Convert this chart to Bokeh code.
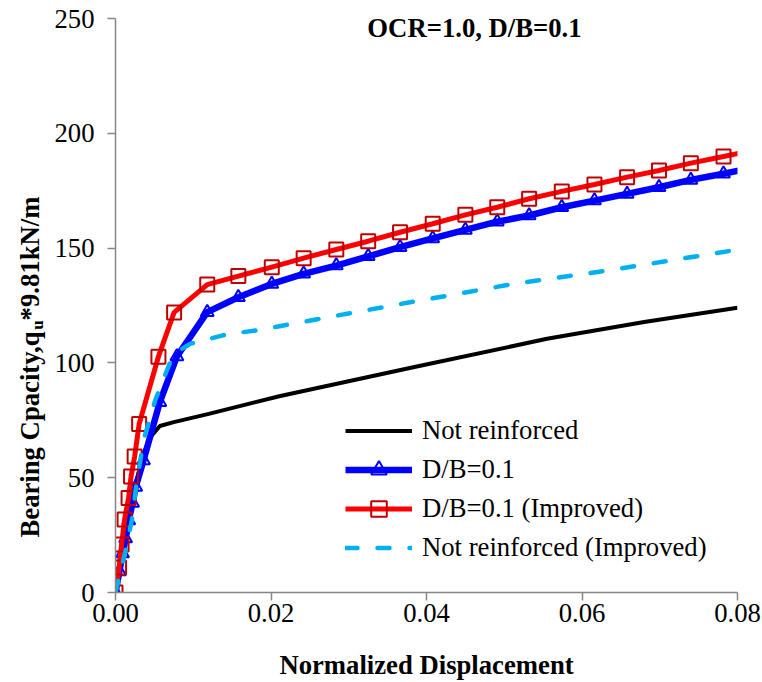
from bokeh.plotting import figure
from bokeh.layouts import row
from bokeh.models import (Range1d, FixedTicker, PrintfTickFormatter, Legend, LegendItem, Label)
from bokeh.embed import file_html
from bokeh.resources import INLINE
import math

# ---------------- data ----------------
not_reinf_x = [0, 0.0014, 0.0025, 0.0035, 0.0047, 0.0057, 0.0075, 0.0120, 0.0212, 0.0383, 0.0555, 0.0680, 0.0800]
not_reinf_y = [0, 23.5, 45.0, 60.0, 68.5, 72.5, 74.2, 77.8, 85.6, 98.1, 110.5, 117.8, 124.0]

db01_x = [0, 0.0005, 0.0009, 0.0013, 0.0017, 0.0022, 0.0026, 0.0036, 0.0057, 0.0079, 0.0118, 0.0158,
          0.0201, 0.0242, 0.0284, 0.0325, 0.0366, 0.0408, 0.0450, 0.0491, 0.0532, 0.0574, 0.0616,
          0.0658, 0.0699, 0.0740, 0.0782, 0.0823]
db01_y = [0, 9.2, 17.0, 23.5, 31.4, 39.0, 46.0, 57.5, 82.9, 102.8, 122.1, 128.6,
          134.4, 138.8, 142.4, 146.4, 150.4, 154.2, 157.9, 161.5, 164.2, 167.8, 170.7,
          173.6, 176.5, 179.7, 182.4, 185.2]

db01_imp_x = [0, 0.00046, 0.00078, 0.00117, 0.00168, 0.0020, 0.00246, 0.00304, 0.00552, 0.00754, 0.0118, 0.0158,
              0.0201, 0.0242, 0.0284, 0.0325, 0.0366, 0.0408, 0.0450, 0.0491, 0.0532, 0.0574, 0.0616,
              0.0658, 0.0699, 0.0740, 0.0782, 0.0823]
db01_imp_y = [0, 10.9, 20.9, 31.8, 41.2, 50.5, 59.2, 73.4, 102.7, 122.0, 134.1, 137.8,
              141.7, 145.6, 149.4, 153.0, 156.9, 160.6, 164.5, 167.8, 171.5, 174.7, 177.7,
              180.9, 183.8, 187.0, 189.9, 192.7]

not_reinf_imp_x = [0, 0.0012, 0.0021, 0.0027, 0.0036, 0.0051, 0.0072, 0.0085, 0.0096, 0.0143, 0.0186, 0.0216,
                   0.0349, 0.0512, 0.0640, 0.0800]
not_reinf_imp_y = [0, 16.8, 31.4, 47.3, 66.2, 83.6, 101.8, 106.0, 108.3, 112.4, 114.4, 116.3,
                   124.6, 134.4, 140.6, 149.3]

x_ticks = [0.0, 0.02, 0.04, 0.06, 0.08]
y_ticks = [0, 50, 100, 150, 200, 250]

title_text = "OCR=1.0, D/B=0.1"
x_label = "Normalized Displacement"
y_label_main = "Bearing Cpacity,q"
y_label_sub = "u"
y_label_tail = "*9.81kN/m"
legend_labels = ["Not reinforced", "D/B=0.1", "D/B=0.1 (Improved)", "Not reinforced (Improved)"]

# ---------------- layout ----------------
FONT = "Liberation Serif"
FS = 26.7
FSPX = "26.7px"
W, H = 762, 682
LW = 50                      # width of the strip holding the vertical y-axis title
FW, FH = 622, 574
LEFT, RIGHT, TOP, BOTTOM = 115, 25, 18, 90
XMAX, YMAX = 0.08, 250

p = figure(frame_width=FW, frame_height=FH, output_backend="svg", toolbar_location=None,
           x_range=Range1d(0, XMAX), y_range=Range1d(0, YMAX),
           min_border_left=LEFT - LW, min_border_right=RIGHT, min_border_top=TOP, min_border_bottom=BOTTOM)
p.frame_align = False
p.background_fill_color = "white"
p.border_fill_color = "white"
p.outline_line_color = None
p.xgrid.visible = False
p.ygrid.visible = False

def px_x(px):
    return (px - LEFT) / FW * XMAX

def px_y(py):
    return (TOP + FH - py) / FH * YMAX

# series
r_black = p.line(not_reinf_x, not_reinf_y, line_color="black", line_width=4)
r_blue = p.line(db01_x, db01_y, line_color="#0000FF", line_width=6.5)
m_blue = p.scatter(db01_x, db01_y, marker="triangle", size=13, fill_color=None,
                   line_color="#0000FF", line_width=2)
r_red = p.line(db01_imp_x, db01_imp_y, line_color="#FF0000", line_width=5)
m_red = p.scatter(db01_imp_x, db01_imp_y, marker="square", size=14, fill_color=None,
                  line_color="#C00000", line_width=2)
r_cyan = p.line(not_reinf_imp_x, not_reinf_imp_y, line_color="#00B0F0", line_width=4.5,
                line_dash="12 20", line_cap="round")

# axes
for ax in (p.xaxis[0], p.yaxis[0]):
    ax.axis_line_color = "#868686"
    ax.axis_line_width = 1.5
    ax.major_tick_line_color = "#868686"
    ax.major_tick_line_width = 1.5
    ax.major_tick_out = 8
    ax.major_tick_in = 0
    ax.minor_tick_out = 0
    ax.minor_tick_in = 0
    ax.major_label_text_font = FONT
    ax.major_label_text_font_size = FSPX
    ax.major_label_text_color = "black"

p.xaxis.ticker = FixedTicker(ticks=x_ticks)
p.xaxis.formatter = PrintfTickFormatter(format="%.2f")
p.xaxis.major_label_standoff = 3
p.xaxis.axis_label = x_label
p.xaxis.axis_label_text_font = FONT
p.xaxis.axis_label_text_font_size = FSPX
p.xaxis.axis_label_text_font_style = "bold"
p.xaxis.axis_label_text_color = "black"
p.xaxis.axis_label_standoff = 25

p.yaxis.ticker = FixedTicker(ticks=y_ticks)
p.yaxis.major_label_standoff = 13

# title inside plot
p.add_layout(Label(x=px_x(474), y=px_y(27.5), text=title_text, text_font=FONT,
                   text_font_size=FSPX, text_font_style="bold", text_align="center",
                   text_baseline="middle", text_color="black"))

# legend
legend = Legend(items=[
    LegendItem(label=legend_labels[0], renderers=[r_black]),
    LegendItem(label=legend_labels[1], renderers=[r_blue, m_blue]),
    LegendItem(label=legend_labels[2], renderers=[r_red, m_red]),
    LegendItem(label=legend_labels[3], renderers=[r_cyan]),
])
legend.location = (345 - LEFT, 25)
legend.border_line_color = None
legend.background_fill_alpha = 0
legend.padding = 0
legend.margin = 0
legend.spacing = 0
legend.glyph_width = 67
legend.glyph_height = 39
legend.label_height = 39
legend.label_standoff = 10
legend.label_text_font = FONT
legend.label_text_font_size = FSPX
legend.label_text_color = "black"
p.add_layout(legend, "center")

# strip on the left carrying the vertical y-axis title (with subscript)
s = figure(frame_width=LW, frame_height=H, output_backend="svg", toolbar_location=None,
           x_range=Range1d(0, LW), y_range=Range1d(0, H),
           x_axis_type=None, y_axis_type=None, min_border=0)
s.frame_align = False
s.outline_line_color = None
s.xgrid.visible = False
s.ygrid.visible = False
s.background_fill_color = "white"
s.border_fill_color = "white"

start_py = 537
main_len = 7.778 * FS
sub_len = 0.556 * 17
s.add_layout(Label(x=29, y=H - start_py, text=y_label_main, angle=math.pi / 2,
                   text_font=FONT, text_font_size=FSPX, text_font_style="bold",
                   text_align="left", text_baseline="middle", text_color="black"))
s.add_layout(Label(x=36.5, y=H - (start_py - main_len), text=y_label_sub, angle=math.pi / 2,
                   text_font=FONT, text_font_size="17px", text_font_style="bold",
                   text_align="left", text_baseline="middle", text_color="black"))
s.add_layout(Label(x=29, y=H - (start_py - main_len - sub_len), text=y_label_tail, angle=math.pi / 2,
                   text_font=FONT, text_font_size=FSPX, text_font_style="bold",
                   text_align="left", text_baseline="middle", text_color="black"))

layout = row(s, p)
open("out.html", "w").write(file_html(layout, INLINE))
